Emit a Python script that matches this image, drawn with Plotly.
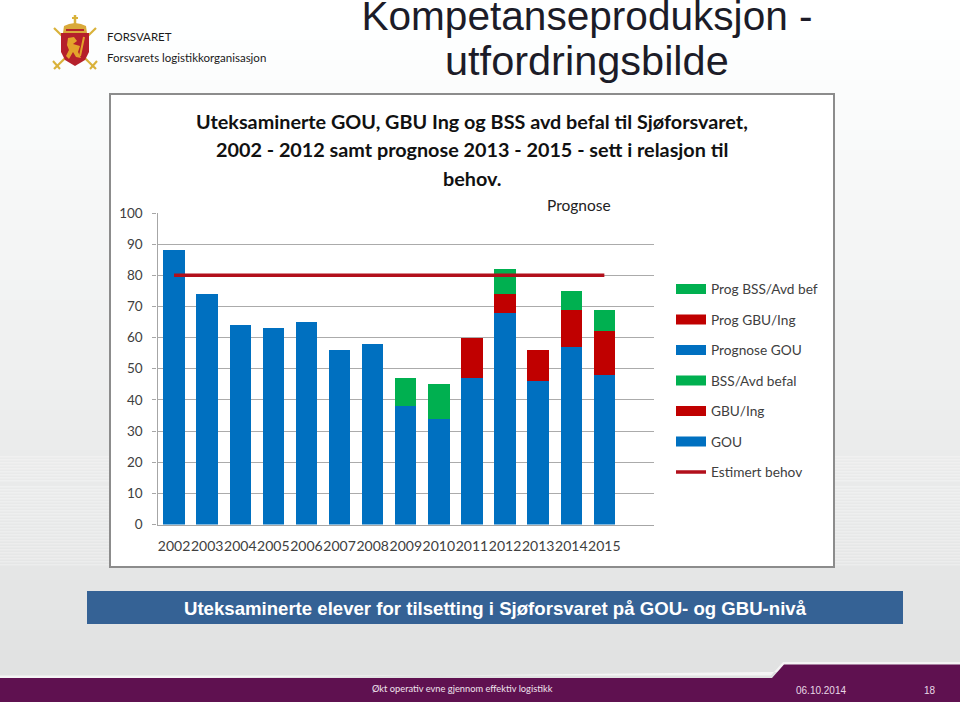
import plotly.graph_objects as go

years = ["2002","2003","2004","2005","2006","2007","2008","2009","2010","2011","2012","2013","2014","2015"]
gou = [88,74,64,63,65,56,58,38,34,47,68,None,None,None]
gbu = [None,None,None,None,None,None,None,None,None,13,6,None,None,None]
bss = [None,None,None,None,None,None,None,9,11,None,8,None,None,None]
prog_gou = [None]*11 + [46,57,48]
prog_gbu = [None]*11 + [10,12,14]
prog_bss = [None]*11 + [None,6,7]
behov = [80]*14
y_ticks = [0,10,20,30,40,50,60,70,80,90,100]

BLUE, RED, GREEN = "#0070C0", "#C00000", "#00B050"
LINE = "#B20F1B"
W, H = 960, 702

def px(x): return x / W
def py(y): return 1 - y / H

def rect(x0, y0, x1, y1, fill, line=None, lw=0):
    return dict(type="rect", xref="paper", yref="paper", x0=px(x0), x1=px(x1), y0=py(y0), y1=py(y1),
                fillcolor=fill, line=dict(color=line or fill, width=lw), layer="below")

def poly(points, fill):
    d = "M" + "L".join(f"{px(a):.5f},{py(b):.5f}" for a, b in points) + "Z"
    return dict(type="path", xref="paper", yref="paper", path=d, fillcolor=fill, line=dict(width=0), layer="below")

def seg(a, b, c, d, color, w):
    return dict(type="line", xref="paper", yref="paper", x0=px(a), y0=py(b), x1=px(c), y1=py(d),
                line=dict(color=color, width=w), layer="below")

shapes = []
n = 70
for i in range(n):
    t = i / (n - 1)
    v0, v1 = 255, 224
    v = round(v0 + (v1 - v0) * min(1, t * 1.02))
    shapes.append(rect(0, i * 10, W, (i + 1) * 10 + 1, f"rgb({v},{v+1},{v+1})"))
for y in range(456, 566, 3):
    if 480 < y < 486:
        continue
    shapes.append(rect(0, y, 110, y + 1.4, "rgba(255,255,255,0.28)"))
    shapes.append(rect(835, y, W, y + 1.4, "rgba(255,255,255,0.28)"))
shapes.append(rect(110, 94, 834, 567, "#FFFFFF", "#8C8C8C", 2))
shapes.append(rect(87, 591, 903, 624, "#356295"))
shapes.append(poly([(0, 675.5), (771, 675.5), (783, 662), (W, 662), (W, 670), (0, 680)], "#F4F4F4"))
shapes.append(poly([(0, 678), (772, 678), (784, 664.5), (W, 664.5), (W, 702), (0, 702)], "#5F1150"))
shapes += [
    seg(54, 28, 96, 69, "#D9B23A", 2.2),
    seg(96, 28, 54, 69, "#D9B23A", 2.2),
    seg(53, 61, 60, 69, "#D9B23A", 2),
    seg(97, 61, 90, 69, "#D9B23A", 2),
    seg(75, 15, 75, 25, "#D9B23A", 2.5),
    seg(72, 18, 78, 18, "#D9B23A", 2),
    poly([(63, 33), (64, 26), (69, 24), (75, 23), (81, 24), (86, 26), (87, 33)], "#D9A93A"),
    poly([(66, 29), (84, 29), (84, 31), (66, 31)], "#B5242A"),
    poly([(61, 33), (89, 33), (89, 52), (85, 60), (75, 66), (65, 60), (61, 52)], "#B5202B"),
    poly([(68, 38), (74, 37), (77, 41), (73, 44), (80, 46), (78, 52), (81, 58), (76, 57), (73, 52), (69, 59), (66, 56), (69, 50), (67, 45)], "#E3A32B"),
    seg(84, 37, 80, 56, "#E3A32B", 2),
]

ann = []
def text(x, y, s, size, color, family="Lato", bold=False, anchor="center"):
    ann.append(dict(xref="paper", yref="paper", x=px(x), y=py(y), text=f"<b>{s}</b>" if bold else s,
                    showarrow=False, xanchor=anchor, yanchor="middle",
                    font=dict(family=family, size=size, color=color)))

ARIAL = "Liberation Sans"
text(587, 60, "utfordringsbilde", 41.5, "#1C1C28", ARIAL)
text(105, 37, "FORSVARET", 11.5, "#1A1A1A", "Lato", anchor="left")
text(105, 58, "Forsvarets logistikkorganisasjon", 11.5, "#1A1A1A", "Lato", anchor="left")
text(472, 120.5, "Uteksaminerte GOU, GBU Ing og BSS avd befal til Sjøforsvaret,", 19.8, "#111111", bold=True)
text(472, 149, "2002 - 2012 samt prognose 2013 - 2015 - sett i relasjon til", 19.8, "#111111", bold=True)
text(472, 178, "behov.", 19.8, "#111111", bold=True)
text(579, 205, "Prognose", 15.5, "#222222")
text(495, 608, "Uteksaminerte elever for tilsetting i Sjøforsvaret på GOU- og GBU-nivå", 18.6, "#FFFFFF", ARIAL, bold=True)
text(462, 688, "Økt operativ evne gjennom effektiv logistikk", 9.3, "#F0E4EE", "Lato")
text(821, 690, "06.10.2014", 10, "#E8D8E6", ARIAL)
text(930, 690, "18", 10, "#E8D8E6", ARIAL)

fig = go.Figure()
for name, vals, col in [("GOU", gou, BLUE), ("GBU/Ing", gbu, RED), ("BSS/Avd befal", bss, GREEN),
                        ("Prognose GOU", prog_gou, BLUE), ("Prog GBU/Ing", prog_gbu, RED), ("Prog BSS/Avd bef", prog_bss, GREEN)]:
    fig.add_trace(go.Bar(x=years, y=vals, name=name, marker=dict(color=col, line=dict(width=0)), showlegend=False))

for name, col in [("Prog BSS/Avd bef", GREEN), ("Prog GBU/Ing", RED), ("Prognose GOU", BLUE),
                  ("BSS/Avd befal", GREEN), ("GBU/Ing", RED), ("GOU", BLUE)]:
    fig.add_trace(go.Scatter(x=[None], y=[None], mode="lines", name=name, legendgroup=name,
                             line=dict(color=col, width=10)))
fig.add_trace(go.Scatter(x=years, y=behov, mode="lines", name="Estimert behov", legendgroup="behov",
                         line=dict(color=LINE, width=3.5)))

fig.update_layout(
    width=W, height=H, autosize=False, margin=dict(l=0, r=0, t=0, b=0),
    paper_bgcolor="#FFFFFF", plot_bgcolor="rgba(0,0,0,0)",
    title=dict(text="Kompetanseproduksjon -", xref="paper", yref="paper", x=px(587), y=py(15.5), xanchor="center",
               yanchor="middle", automargin=False, font=dict(family=ARIAL, size=40.6, color="#1C1C28")),
    barmode="stack", bargap=0.355, shapes=shapes, annotations=ann,
    font=dict(family="Lato", color="#404040"),
    legend=dict(x=px(671), y=py(273.5), xanchor="left", yanchor="top", bgcolor="rgba(0,0,0,0)",
                tracegroupgap=9.7, font=dict(family="Lato", size=13.7, color="#404040")),
    xaxis=dict(type="category", categoryorder="array", categoryarray=years, domain=[px(157.5), px(654)],
               range=[-0.5, 14.5], showgrid=False, showline=True, linecolor="#A6A6A6", linewidth=1.3, automargin=False,
               ticks="", tickfont=dict(family="Lato", size=14, color="#404040"), ticklabelstandoff=9, tickangle=0),
    yaxis=dict(range=[0, 100], domain=[py(524.5), py(213)], tickvals=y_ticks, showgrid=True, gridcolor="#ABABAB",
               gridwidth=1.2, showline=True, linecolor="#A6A6A6", linewidth=1.3, zeroline=False, automargin=False,
               ticks="outside", ticklen=4, tickcolor="#A6A6A6", ticklabelstandoff=7,
               tickfont=dict(family="Lato", size=13.5, color="#404040")),
)
fig.write_html("out.html", config={"displayModeBar": False}, post_script="document.body.style.margin='0';")
